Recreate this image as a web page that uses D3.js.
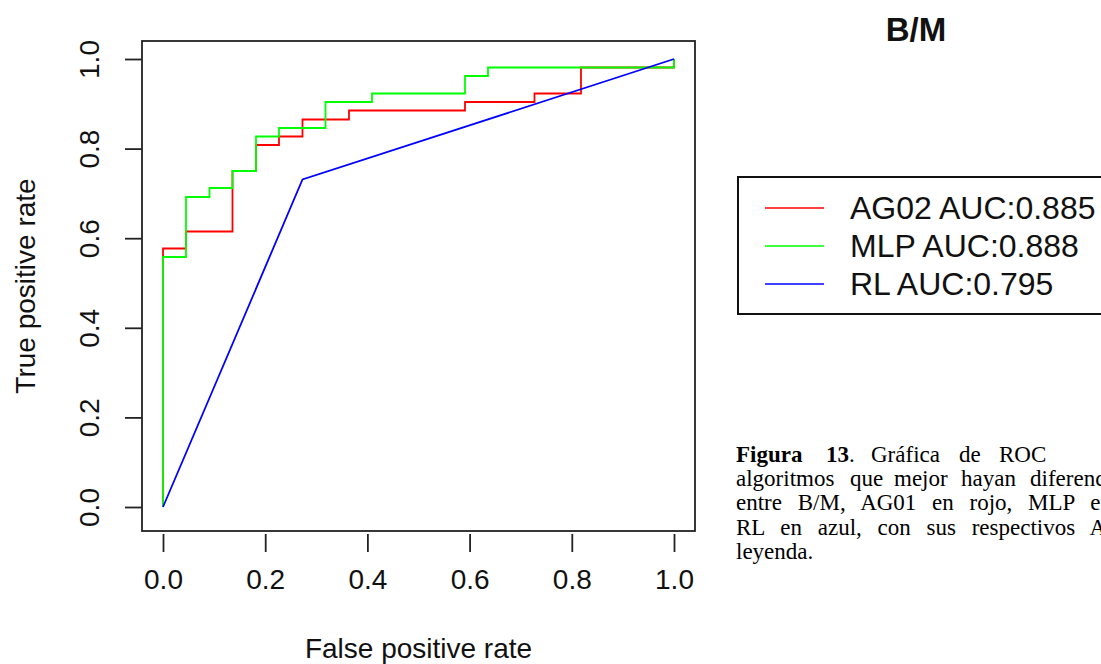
<html>
<head>
<script src="https://cdn.jsdelivr.net/npm/d3@7"></script>
<style>
  body { margin:0; background:#fff; }
  svg { display:block; }
</style>
</head>
<body>
<svg id="svg" width="1101" height="664"></svg>
<script>
// ROC points (false positive rate, true positive rate)
const agFpr  = [0, 0, 0.045, 0.045, 0.136, 0.136, 0.182, 0.182, 0.227, 0.227, 0.273, 0.273, 0.364, 0.364, 0.591, 0.591, 0.727, 0.727, 0.818, 0.818, 1, 1];
const agTpr  = [0, 0.577, 0.577, 0.615, 0.615, 0.75, 0.75, 0.808, 0.808, 0.827, 0.827, 0.865, 0.865, 0.885, 0.885, 0.904, 0.904, 0.923, 0.923, 0.981, 0.981, 1];
const mlpFpr = [0, 0, 0.045, 0.045, 0.091, 0.091, 0.136, 0.136, 0.182, 0.182, 0.227, 0.227, 0.318, 0.318, 0.409, 0.409, 0.591, 0.591, 0.636, 0.636, 1, 1];
const mlpTpr = [0, 0.558, 0.558, 0.692, 0.692, 0.712, 0.712, 0.75, 0.75, 0.827, 0.827, 0.846, 0.846, 0.904, 0.904, 0.923, 0.923, 0.962, 0.962, 0.981, 0.981, 1];
const rlFpr  = [0, 0.273, 1];
const rlTpr  = [0, 0.731, 1];

const seriesNames  = ["AG02 AUC:0.885", "MLP AUC:0.888", "RL AUC:0.795"];
const seriesColors = ["#ff0000", "#00ff00", "#0000ff"];
const ticks = [0, 0.2, 0.4, 0.6, 0.8, 1.0];

// plot box and scales
const box = { left: 142, right: 695, top: 41, bottom: 531 };
const xScale = d3.scaleLinear().domain([0, 1]).range([163, 674]);
const yScale = d3.scaleLinear().domain([0, 1]).range([507, 59]);

const svg = d3.select("#svg");
const sans = "'Liberation Sans', Arial, sans-serif";
const serif = "'Liberation Serif', 'Times New Roman', serif";

// curves
const line = d3.line().x(d => xScale(d[0])).y(d => yScale(d[1]));
const curves = [
  d3.zip(agFpr, agTpr),
  d3.zip(mlpFpr, mlpTpr),
  d3.zip(rlFpr, rlTpr)
];
curves.forEach((pts, i) => {
  svg.append("path")
    .attr("d", line(pts))
    .attr("fill", "none")
    .attr("stroke", seriesColors[i])
    .attr("stroke-width", 1.8);
});

// box
svg.append("rect")
  .attr("x", box.left).attr("y", box.top)
  .attr("width", box.right - box.left).attr("height", box.bottom - box.top)
  .attr("fill", "none").attr("stroke", "#222").attr("stroke-width", 1.8);

// x axis
const xAxis = d3.axisBottom(xScale).tickValues(ticks).tickSize(18).tickSizeOuter(0)
  .tickPadding(17).tickFormat(d3.format(".1f"));
const gx = svg.append("g").attr("transform", `translate(0, ${box.bottom + 3})`).call(xAxis);
gx.select(".domain").remove();
gx.selectAll("line").attr("stroke", "#222").attr("stroke-width", 1.8);
gx.selectAll("text").attr("font-family", sans).attr("font-size", 28).attr("fill", "#111");

// y axis
const yAxis = d3.axisLeft(yScale).tickValues(ticks).tickSize(17).tickSizeOuter(0)
  .tickFormat(d3.format(".1f"));
const gy = svg.append("g").attr("transform", `translate(${box.left}, 0)`).call(yAxis);
gy.select(".domain").remove();
gy.selectAll("line").attr("stroke", "#222").attr("stroke-width", 1.8);
gy.selectAll("text").remove();
gy.selectAll(".tick").append("text")
  .attr("transform", "translate(-53, 0) rotate(-90)")
  .attr("text-anchor", "middle")
  .attr("dy", "0.35em")
  .attr("font-family", sans).attr("font-size", 28).attr("fill", "#111")
  .text(d => d3.format(".1f")(d));

// axis titles
svg.append("text")
  .attr("x", (box.left + box.right) / 2).attr("y", 658)
  .attr("text-anchor", "middle")
  .attr("font-family", sans).attr("font-size", 28).attr("fill", "#111")
  .text("False positive rate");
svg.append("text")
  .attr("transform", `translate(35, ${(box.top + box.bottom) / 2}) rotate(-90)`)
  .attr("text-anchor", "middle")
  .attr("font-family", sans).attr("font-size", 28).attr("fill", "#111")
  .text("True positive rate");

// panel title
svg.append("text")
  .attr("x", 916).attr("y", 41)
  .attr("text-anchor", "middle")
  .attr("font-family", sans).attr("font-weight", "bold").attr("font-size", 33).attr("fill", "#111")
  .text("B/M");

// legend
const legend = svg.append("g");
legend.append("rect")
  .attr("x", 738).attr("y", 177).attr("width", 400).attr("height", 137)
  .attr("fill", "none").attr("stroke", "#111").attr("stroke-width", 2);
seriesNames.forEach((name, i) => {
  const cy = 208 + i * 38;
  legend.append("line")
    .attr("x1", 765).attr("x2", 824).attr("y1", cy).attr("y2", cy)
    .attr("stroke", seriesColors[i]).attr("stroke-width", 1.6);
  legend.append("text")
    .attr("x", 850).attr("y", cy + 11)
    .attr("font-family", sans).attr("font-size", 32).attr("fill", "#111")
    .text(name);
});

// caption (justified lines, cut by the right edge)
const cap = svg.append("g").attr("font-family", serif).attr("font-size", 23).attr("fill", "#000");
const line1 = [["Figura", 736, true], ["13", 826, true], [".", 849, false], ["Gráfica", 871, false], ["de", 959, false], ["ROC", 999, false]];
line1.forEach(w => {
  cap.append("text").attr("x", w[1]).attr("y", 462)
    .attr("font-weight", w[2] ? "bold" : "normal").text(w[0]);
});
const line2 = [["algoritmos", 736], ["que", 850], ["mejor", 894], ["hayan", 961], ["diferenciado", 1030]];
line2.forEach(w => {
  cap.append("text").attr("x", w[1]).attr("y", 486).text(w[0]);
});
cap.append("text").attr("x", 736).attr("y", 510).attr("word-spacing", 10).text("entre B/M, AG01 en rojo, MLP en verde y");
cap.append("text").attr("x", 736).attr("y", 535).attr("word-spacing", 10).text("RL en azul, con sus respectivos AUC en la");
cap.append("text").attr("x", 736).attr("y", 559).text("leyenda.");
</script>
</body>
</html>
